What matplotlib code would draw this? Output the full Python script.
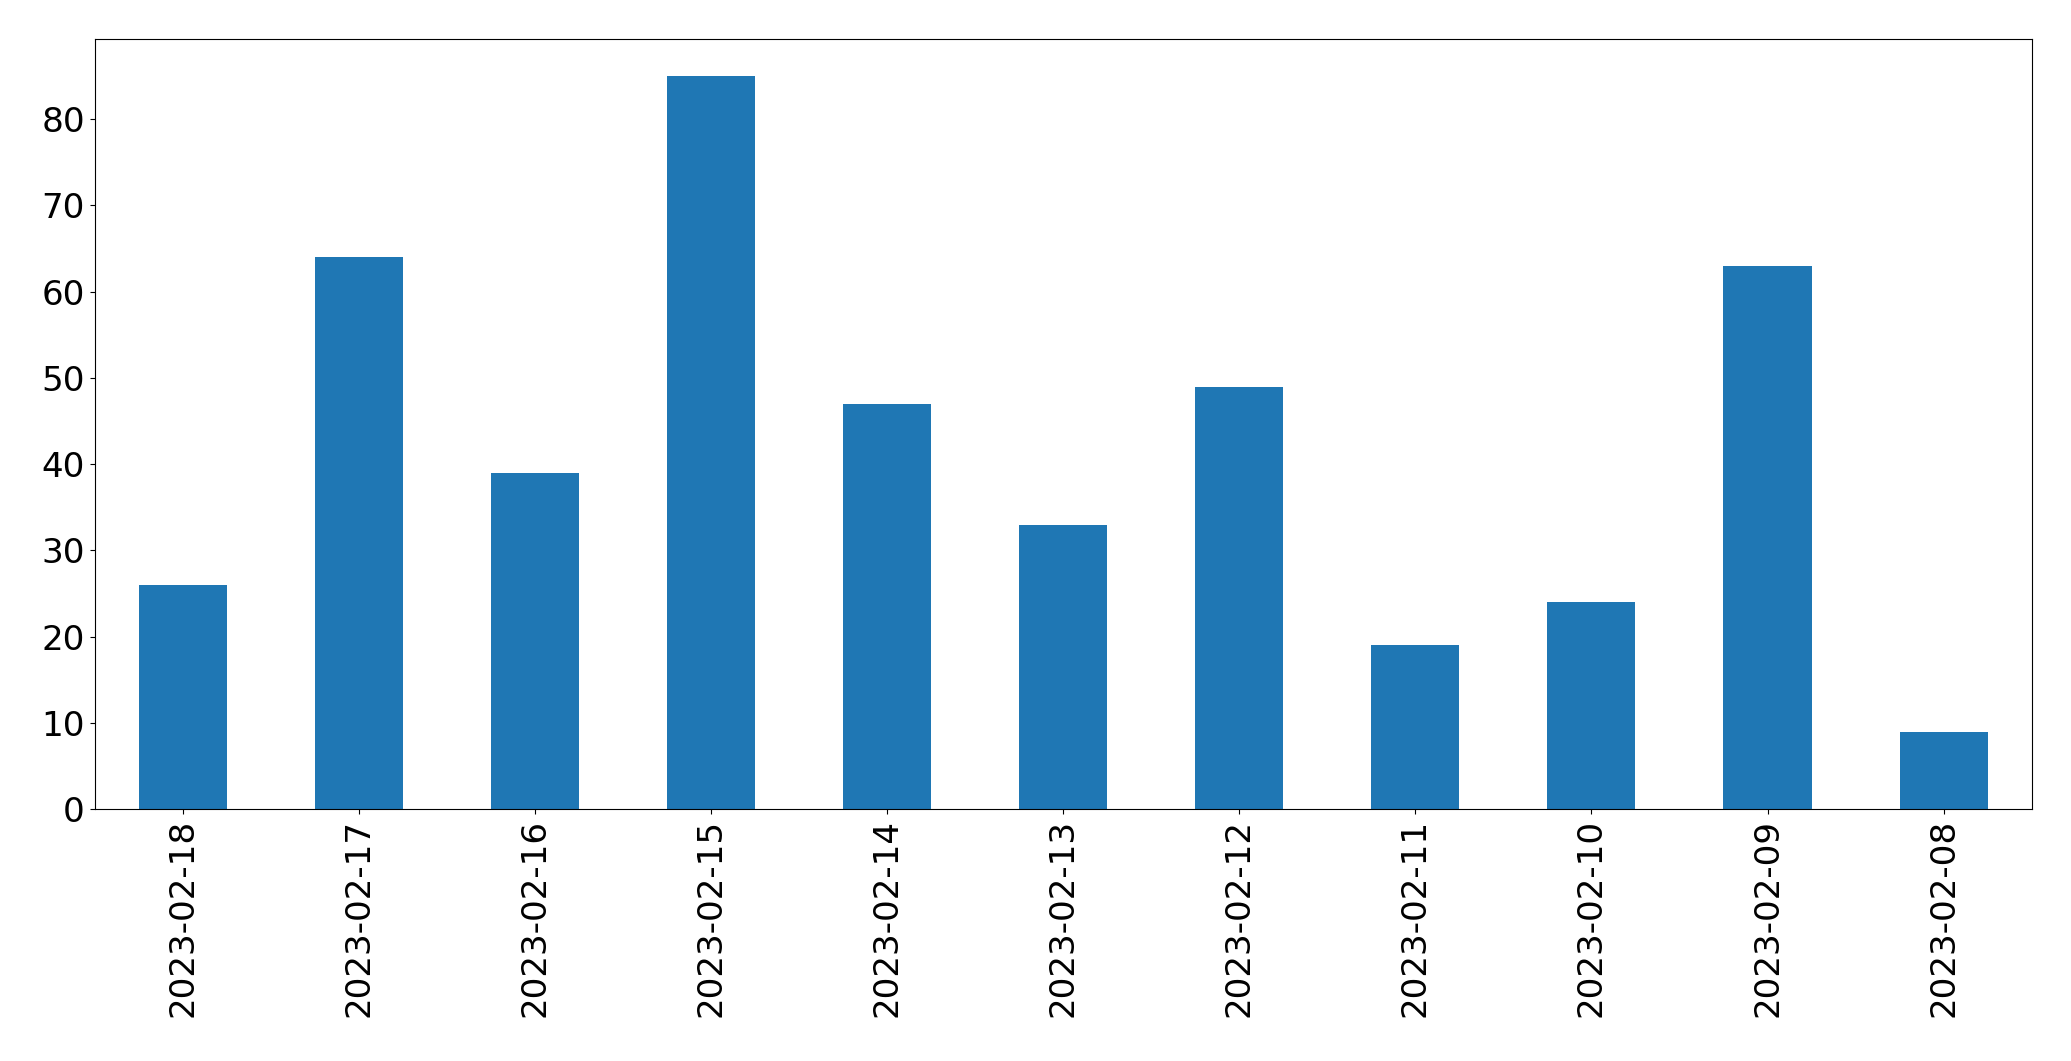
import matplotlib
matplotlib.use("Agg")
import matplotlib.pyplot as plt

dates = ["2023-02-18", "2023-02-17", "2023-02-16", "2023-02-15", "2023-02-14",
         "2023-02-13", "2023-02-12", "2023-02-11", "2023-02-10", "2023-02-09",
         "2023-02-08"]
counts = [26, 64, 39, 85, 47, 33, 49, 19, 24, 63, 9]

fig = plt.figure(figsize=(20.71, 10.61), dpi=100)
ax = fig.add_axes([0.0457, 0.2372, 0.9353, 0.7258])

x = range(len(dates))
ax.bar(x, counts, width=0.5, color="#1f77b4")
ax.set_xlim(-0.5, len(dates) - 0.5)
ax.set_xticks(list(x))
ax.set_xticklabels(dates, rotation=90)
ax.tick_params(labelsize=24.6)

fig.savefig("out.png", dpi=100)
